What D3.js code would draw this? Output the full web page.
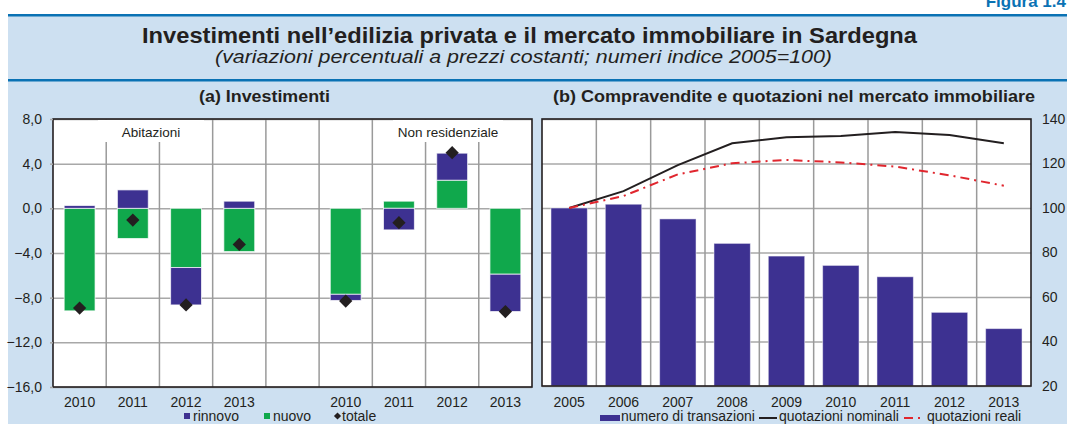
<!DOCTYPE html>
<html>
<head>
<meta charset="utf-8">
<script src="https://cdn.jsdelivr.net/npm/d3@7"></script>
<style>
  body { margin: 0; background: #fff; }
  svg { display: block; font-family: "Liberation Sans", Arial, sans-serif; }
  .axisNum { font-size: 14px; fill: #231f20; }
  .legend { font-size: 14px; fill: #231f20; }
</style>
</head>
<body>
<svg width="1070" height="424"></svg>
<script>
// panel (a): investimenti, variazioni percentuali
const leftCats = ['2010', '2011', '2012', '2013', '', '2010', '2011', '2012', '2013'];
const abitRinnovo = [0.25, 1.65, -3.35, 0.64];
const abitNuovo = [-9.18, -2.7, -5.3, -3.87];
const abitTotale = [-8.93, -1.05, -8.65, -3.23];
const nonresRinnovo = [-0.55, -1.93, 2.42, -3.34];
const nonresNuovo = [-7.7, 0.64, 2.52, -5.9];
const nonresTotale = [-8.3, -1.29, 4.98, -9.24];
const leftTicks = [8, 4, 0, -4, -8, -12, -16];

// panel (b): compravendite e quotazioni, 2005=100
const years = ['2005', '2006', '2007', '2008', '2009', '2010', '2011', '2012', '2013'];
const transazioni = [100, 101.7, 95.1, 84.1, 78.4, 74.2, 69.1, 53.1, 45.8];
const nominali = [100, 107.6, 119.3, 129.1, 131.8, 132.4, 134.2, 132.8, 129.1];
const reali = [100, 105.4, 115.1, 120.1, 121.6, 120.5, 118.6, 114.7, 110.0];
const rightTicks = [20, 40, 60, 80, 100, 120, 140];

const purple = '#3d3191';
const green = '#10a84c';
const dark = '#231f20';
const red = '#e0262e';
const gridColor = '#a8a8a8';

const svg = d3.select('svg');

// background and rules
svg.append('rect').attr('x', 8).attr('y', 15).attr('width', 1059).attr('height', 409).attr('fill', '#cde0f1');
svg.append('rect').attr('x', 8).attr('y', 14).attr('width', 1059).attr('height', 2.5).attr('fill', '#0a72b4');
svg.append('rect').attr('x', 8).attr('y', 79).attr('width', 1059).attr('height', 2.5).attr('fill', '#0a72b4');

svg.append('text')
  .attr('x', 1066).attr('y', 7)
  .attr('text-anchor', 'end')
  .attr('font-size', 17).attr('font-weight', 'bold')
  .attr('fill', '#0a72b4')
  .text('Figura 1.4');

svg.append('text')
  .attr('x', 142).attr('y', 43)
  .attr('font-size', 22).attr('font-weight', 'bold')
  .attr('textLength', 775).attr('lengthAdjust', 'spacingAndGlyphs')
  .attr('fill', dark)
  .text('Investimenti nell’edilizia privata e il mercato immobiliare in Sardegna');

svg.append('text')
  .attr('x', 215).attr('y', 63)
  .attr('font-size', 17.5).attr('font-style', 'italic')
  .attr('textLength', 617).attr('lengthAdjust', 'spacingAndGlyphs')
  .attr('fill', dark)
  .text('(variazioni percentuali a prezzi costanti; numeri indice 2005=100)');

svg.append('text')
  .attr('x', 199).attr('y', 102)
  .attr('font-size', 16.5).attr('font-weight', 'bold')
  .attr('textLength', 131).attr('lengthAdjust', 'spacingAndGlyphs')
  .attr('fill', dark)
  .text('(a) Investimenti');

svg.append('text')
  .attr('x', 553).attr('y', 102)
  .attr('font-size', 16.5).attr('font-weight', 'bold')
  .attr('textLength', 482).attr('lengthAdjust', 'spacingAndGlyphs')
  .attr('fill', dark)
  .text('(b) Compravendite e quotazioni nel mercato immobiliare');

// ---------- panel (a) ----------
const L = { left: 53, right: 532, top: 119, bottom: 387 };

const xL = d3.scaleBand()
  .domain(d3.range(leftCats.length))
  .range([L.left, L.right])
  .paddingInner(0.42).paddingOuter(0.21);

const yL = d3.scaleLinear().domain([-16, 8]).range([L.bottom, L.top]);

const gA = svg.append('g');
gA.append('rect')
  .attr('x', L.left).attr('y', L.top)
  .attr('width', L.right - L.left).attr('height', L.bottom - L.top)
  .attr('fill', '#fff');

// grid
gA.append('g')
  .attr('transform', `translate(${L.left},0)`)
  .call(d3.axisLeft(yL).tickValues(leftTicks).tickSize(-(L.right - L.left)).tickFormat(''))
  .call(g => g.select('.domain').remove())
  .call(g => g.selectAll('line').attr('stroke', gridColor).attr('stroke-width', 1.5));

const stepL = xL.step();
gA.selectAll('.vgrid')
  .data(d3.range(1, leftCats.length))
  .enter().append('line')
  .attr('x1', i => xL(i) - stepL * xL.paddingInner() / 2)
  .attr('x2', i => xL(i) - stepL * xL.paddingInner() / 2)
  .attr('y1', L.top).attr('y2', L.bottom)
  .attr('stroke', '#9a9a9a').attr('stroke-width', 1.5);

// stacked bars
const leftRows = leftCats.map((c, i) => {
  if (i < 4) return { i, nuovo: abitNuovo[i], rinnovo: abitRinnovo[i], totale: abitTotale[i] };
  if (i > 4) return { i, nuovo: nonresNuovo[i - 5], rinnovo: nonresRinnovo[i - 5], totale: nonresTotale[i - 5] };
  return null;
}).filter(d => d);

const stacked = d3.stack()
  .keys(['nuovo', 'rinnovo'])
  .offset(d3.stackOffsetDiverging)(leftRows);

const barColors = { nuovo: green, rinnovo: purple };

gA.selectAll('.series')
  .data(stacked)
  .enter().append('g')
  .attr('fill', s => barColors[s.key])
  .selectAll('rect')
  .data(s => s)
  .enter().append('rect')
  .attr('x', d => xL(d.data.i))
  .attr('width', xL.bandwidth())
  .attr('y', d => yL(Math.max(d[0], d[1])))
  .attr('height', d => Math.abs(yL(d[0]) - yL(d[1])))
  .attr('stroke', '#fff').attr('stroke-opacity', 0.7).attr('stroke-width', 1);

const diamond = d3.symbol().type(d3.symbolSquare).size(88);
gA.selectAll('.tot')
  .data(leftRows)
  .enter().append('path')
  .attr('d', diamond)
  .attr('transform', d => `translate(${xL(d.i) + xL.bandwidth() / 2},${yL(d.totale)}) rotate(45)`)
  .attr('fill', dark);

// group labels with white boxes
const groupLabels = [
  { text: 'Abitazioni', x: 151, w: 106 },
  { text: 'Non residenziale', x: 448, w: 110 }
];
groupLabels.forEach(g => {
  gA.append('rect')
    .attr('x', g.x - g.w / 2).attr('y', L.top + 1)
    .attr('width', g.w).attr('height', 22)
    .attr('fill', '#fff');
  gA.append('text')
    .attr('x', g.x).attr('y', 137)
    .attr('text-anchor', 'middle')
    .attr('font-size', 13.5).attr('fill', dark)
    .text(g.text);
});

// frame
gA.append('rect')
  .attr('x', L.left).attr('y', L.top)
  .attr('width', L.right - L.left).attr('height', L.bottom - L.top)
  .attr('fill', 'none').attr('stroke', dark).attr('stroke-width', 1.6);

// y axis labels
gA.append('g')
  .attr('transform', `translate(${L.left},0)`)
  .call(d3.axisLeft(yL).tickValues(leftTicks).tickSize(3).tickPadding(8)
    .tickFormat(d => d3.format('.1f')(d).replace('.', ',')))
  .call(g => g.select('.domain').remove())
  .call(g => g.selectAll('line').attr('stroke', gridColor).attr('stroke-width', 1.5))
  .call(g => g.selectAll('text').attr('class', 'axisNum').attr('font-family', null).attr('font-size', null));

// x labels
gA.append('g')
  .attr('transform', `translate(0,${L.bottom})`)
  .call(d3.axisBottom(xL).tickSize(0).tickPadding(10).tickFormat(i => leftCats[i]))
  .call(g => g.select('.domain').remove())
  .call(g => g.selectAll('text').attr('class', 'axisNum').attr('font-family', null).attr('font-size', null));

// legend (a)
const legA = svg.append('g').attr('class', 'legend');
legA.append('rect').attr('x', 184).attr('y', 413).attr('width', 6).attr('height', 6).attr('fill', purple);
legA.append('text').attr('x', 193).attr('y', 421).text('rinnovo');
legA.append('rect').attr('x', 264).attr('y', 413).attr('width', 6).attr('height', 6).attr('fill', green);
legA.append('text').attr('x', 273).attr('y', 421).text('nuovo');
legA.append('path').attr('d', d3.symbol().type(d3.symbolSquare).size(26))
  .attr('transform', 'translate(337.5,416) rotate(45)').attr('fill', dark);
legA.append('text').attr('x', 342).attr('y', 421).text('totale');

// ---------- panel (b) ----------
const R = { left: 542, right: 1031, top: 119, bottom: 386 };

const xR = d3.scaleBand()
  .domain(years)
  .range([R.left, R.right])
  .paddingInner(0.33).paddingOuter(0.165);

const yR = d3.scaleLinear().domain([20, 140]).range([R.bottom, R.top]);

const gB = svg.append('g');
gB.append('rect')
  .attr('x', R.left).attr('y', R.top)
  .attr('width', R.right - R.left).attr('height', R.bottom - R.top)
  .attr('fill', '#fff');

gB.append('g')
  .attr('transform', `translate(${R.left},0)`)
  .call(d3.axisLeft(yR).tickValues(rightTicks).tickSize(-(R.right - R.left)).tickFormat(''))
  .call(g => g.select('.domain').remove())
  .call(g => g.selectAll('line').attr('stroke', gridColor).attr('stroke-width', 1.5));

const stepR = xR.step();
gB.selectAll('.vgrid')
  .data(years.slice(1))
  .enter().append('line')
  .attr('x1', d => xR(d) - stepR * xR.paddingInner() / 2)
  .attr('x2', d => xR(d) - stepR * xR.paddingInner() / 2)
  .attr('y1', R.top).attr('y2', R.bottom)
  .attr('stroke', '#9a9a9a').attr('stroke-width', 1.5);

gB.selectAll('.bar')
  .data(transazioni)
  .enter().append('rect')
  .attr('x', (d, i) => xR(years[i]))
  .attr('width', xR.bandwidth())
  .attr('y', d => yR(d))
  .attr('height', d => yR(20) - yR(d))
  .attr('fill', purple)
  .attr('stroke', '#fff').attr('stroke-opacity', 0.5).attr('stroke-width', 1);

const line = d3.line()
  .x((d, i) => xR(years[i]) + xR.bandwidth() / 2)
  .y(d => yR(d));

gB.append('path')
  .datum(nominali)
  .attr('d', line)
  .attr('fill', 'none').attr('stroke', dark).attr('stroke-width', 2);

gB.append('path')
  .datum(reali)
  .attr('d', line)
  .attr('fill', 'none').attr('stroke', red).attr('stroke-width', 2)
  .attr('stroke-dasharray', '9,5,2,5');

gB.append('rect')
  .attr('x', R.left).attr('y', R.top)
  .attr('width', R.right - R.left).attr('height', R.bottom - R.top)
  .attr('fill', 'none').attr('stroke', dark).attr('stroke-width', 1.6);

gB.append('g')
  .attr('transform', `translate(${R.right},0)`)
  .call(d3.axisRight(yR).tickValues(rightTicks).tickSize(0).tickPadding(11))
  .call(g => g.select('.domain').remove())
  .call(g => g.selectAll('text').attr('class', 'axisNum').attr('font-family', null).attr('font-size', null));

gB.append('g')
  .attr('transform', `translate(0,${R.bottom})`)
  .call(d3.axisBottom(xR).tickSize(0).tickPadding(11))
  .call(g => g.select('.domain').remove())
  .call(g => g.selectAll('text').attr('class', 'axisNum').attr('font-family', null).attr('font-size', null));

// legend (b)
const legB = svg.append('g').attr('class', 'legend');
legB.append('rect').attr('x', 600).attr('y', 415).attr('width', 20).attr('height', 6).attr('fill', purple);
legB.append('text').attr('x', 621).attr('y', 421).text('numero di transazioni');
legB.append('line').attr('x1', 759).attr('x2', 777).attr('y1', 418).attr('y2', 418)
  .attr('stroke', dark).attr('stroke-width', 2);
legB.append('text').attr('x', 779).attr('y', 421).text('quotazioni nominali');
legB.append('line').attr('x1', 904).attr('x2', 923).attr('y1', 418).attr('y2', 418)
  .attr('stroke', red).attr('stroke-width', 2).attr('stroke-dasharray', '9,5,2,5');
legB.append('text').attr('x', 927).attr('y', 421).text('quotazioni reali');
</script>
</body>
</html>
